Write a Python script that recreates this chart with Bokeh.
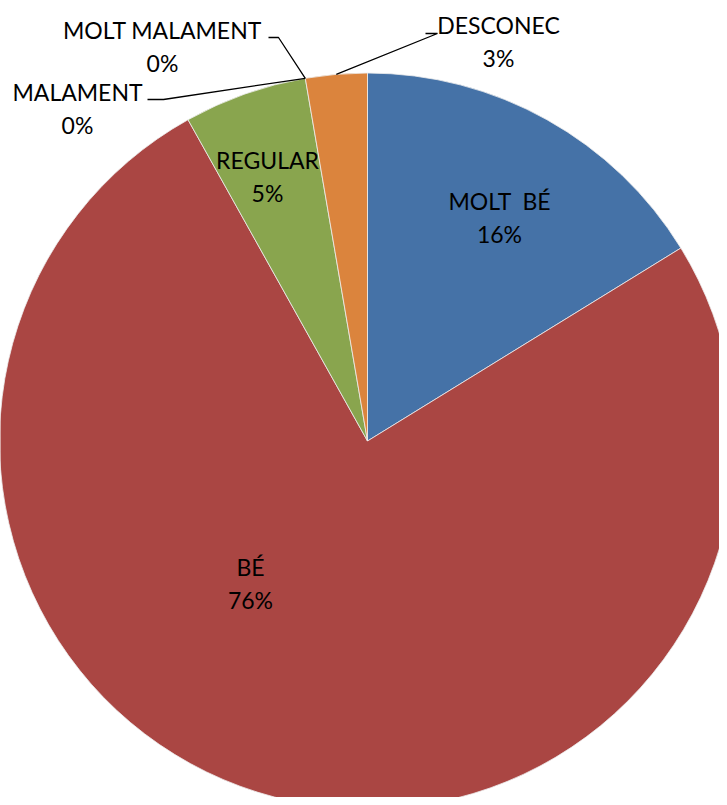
import numpy as np
from bokeh.plotting import figure
from bokeh.models import Range1d, ColumnDataSource
from bokeh.core.properties import value
from bokeh.embed import file_html
from bokeh.resources import INLINE

# ---- data ----
categories = ["MOLT\u00a0 BÉ", "BÉ", "REGULAR", "MALAMENT", "MOLT MALAMENT", "DESCONEC"]
counts = [6, 28, 2, 0, 0, 1]
pct_labels = ["16%", "76%", "5%", "0%", "0%", "3%"]
colors = ["#4572A7", "#AA4643", "#89A54E", "#80699B", "#3D96AE", "#DB843D"]

# ---- layout (screen-like coords, y downward) ----
W, H = 719, 797
CX, CY, R = 367.0, 440.5, 368.0
FONT = "Lato"
FSIZE = "23px"
# label anchor: (center x, vertical position of name); percent is 33px lower
label_pos = [(499, 200), (250, 566), (267, 159), (77, 91), (162, 29), (498, 24)]
# elbow points for outside labels (start, elbow)
leader_elbows = {3: [(147, 99), (163, 99)], 4: [(268, 37), (278, 37)], 5: [(425, 33), (437, 33)]}

p = figure(width=W, height=H, x_range=Range1d(0, W), y_range=Range1d(-H, 0),
           output_backend="svg", toolbar_location=None, min_border=0)
p.axis.visible = False
p.grid.visible = False
p.outline_line_color = None
p.background_fill_color = "white"
p.border_fill_color = "white"

total = float(sum(counts))
frac = np.array(counts, dtype=float) / total
cum = np.concatenate([[0.0], np.cumsum(frac)])
start = np.pi / 2 - 2 * np.pi * cum[:-1]
end = np.pi / 2 - 2 * np.pi * cum[1:]

idx = [i for i, c in enumerate(counts) if c > 0]
src = ColumnDataSource(dict(
    x=[CX] * len(idx), y=[-CY] * len(idx),
    start=[start[i] for i in idx], end=[end[i] for i in idx],
    color=[colors[i] for i in idx]))
p.wedge(x="x", y="y", radius=R, start_angle="start", end_angle="end", direction="clock",
        fill_color="color", line_color="#eeeeee", line_width=0.8, source=src)

# leader lines
for i, pts in leader_elbows.items():
    a = np.pi / 2 - 2 * np.pi * (cum[i] + cum[i + 1]) / 2
    px, py = CX + R * np.cos(a), -CY + R * np.sin(a)
    xs = [pts[0][0], pts[1][0], px]
    ys = [-pts[0][1], -pts[1][1], py]
    p.line(xs, ys, line_color="black", line_width=1.3)

lx = [label_pos[i][0] for i in range(len(categories))]
ly = [-label_pos[i][1] for i in range(len(categories))]
ly2 = [-(label_pos[i][1] + 33) for i in range(len(categories))]
p.text(x=lx, y=ly, text=categories, text_align="center", text_baseline="alphabetic",
       text_font=value(FONT), text_font_size=FSIZE, text_color="black")
p.text(x=lx, y=ly2, text=pct_labels, text_align="center", text_baseline="alphabetic",
       text_font=value(FONT), text_font_size=FSIZE, text_color="black")

open("out.html", "w").write(file_html(p, INLINE))
